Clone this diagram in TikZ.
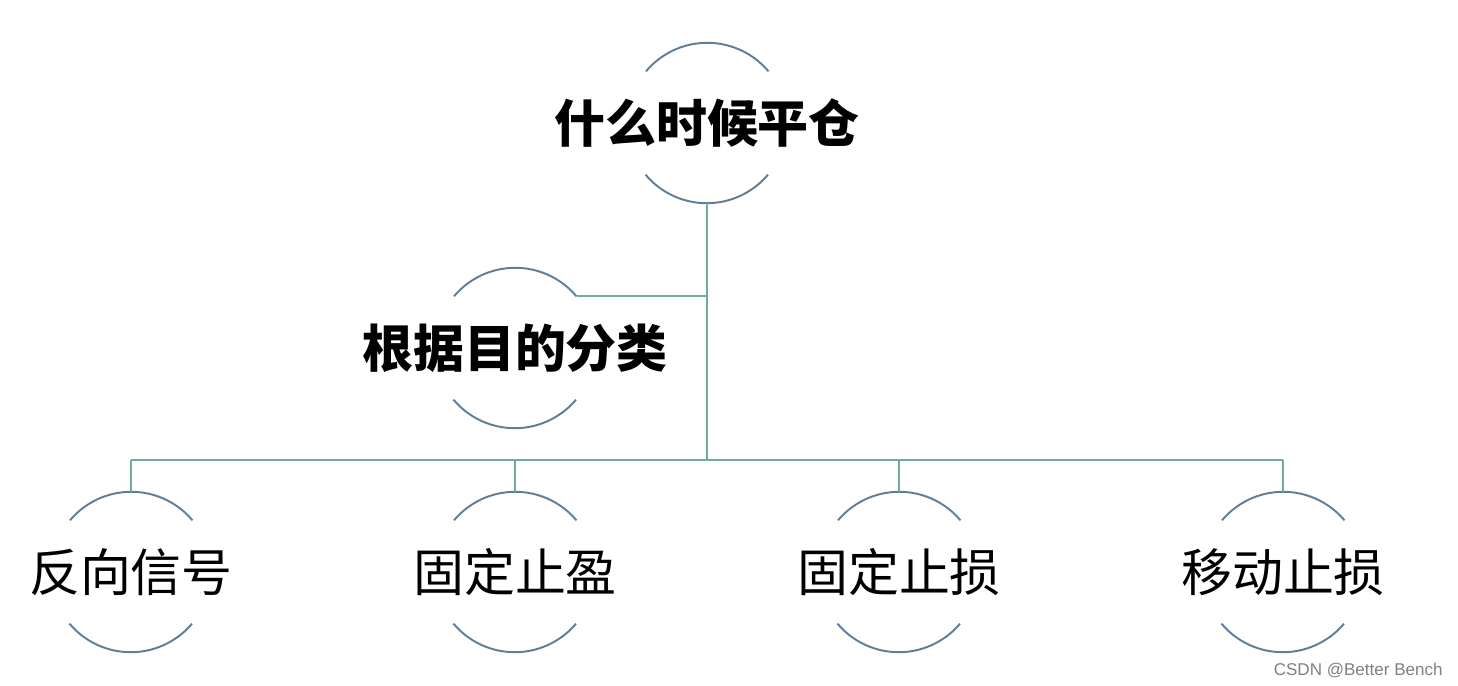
\documentclass[tikz,border=0pt]{standalone}
\usepackage{fontspec}
\newfontfamily\cjk{Noto Sans CJK SC}
\setsansfont{Liberation Sans}
\definecolor{arcblue}{RGB}{95,125,150}
\definecolor{linkgreen}{RGB}{110,172,158}
\definecolor{markgray}{RGB}{128,128,128}

\begin{document}
\begin{tikzpicture}[x=0.02cm,y=-0.02cm]
	\tikzset{
		topic/.style={circle,minimum size=3.2cm,inner sep=0pt,
			label={[font=\cjk\fontsize{29}{29}\selectfont,inner sep=0pt]center:#1}},
		arcline/.style={arcblue,line width=1.1pt},
		link/.style={linkgreen,line width=1.1pt}
	}
	\useasboundingbox (0,0) rectangle (1458,686);
	\node[topic=\bfseries 什么时候平仓] (root) at (707,123) {};
	\node[topic=\bfseries 根据目的分类] (goal) at (515,348) {};
	\node[topic=反向信号] (rev) at (131,572) {};
	\node[topic=固定止盈] (tp) at (515,572) {};
	\node[topic=固定止损] (sl) at (899,572) {};
	\node[topic=移动止损] (trail) at (1283,572) {};
	\coordinate (bus) at (707,460);
	% half arcs round each topic
	\foreach \n in {root,goal,rev,tp,sl,trail} {
		\draw[arcline] (\n.40) arc[start angle=40,end angle=140,radius=1.6cm];
		\draw[arcline] (\n.-140) arc[start angle=-140,end angle=-40,radius=1.6cm];
	}
	\draw[link] (root.south) -- (bus);
	\draw[link] (goal.40) -- (goal.40 -| bus);
	\draw[link] (rev.north |- bus) -- (trail.north |- bus);
	\foreach \n in {rev,tp,sl,trail}
		\draw[link] (\n.north) -- (\n.north |- bus);
	\node[text=markgray,font=\sffamily\fontsize{9.7}{11}\selectfont,anchor=east,inner sep=0pt] (mark) at (1443,670) {CSDN @Better Bench};
\end{tikzpicture}
\end{document}
